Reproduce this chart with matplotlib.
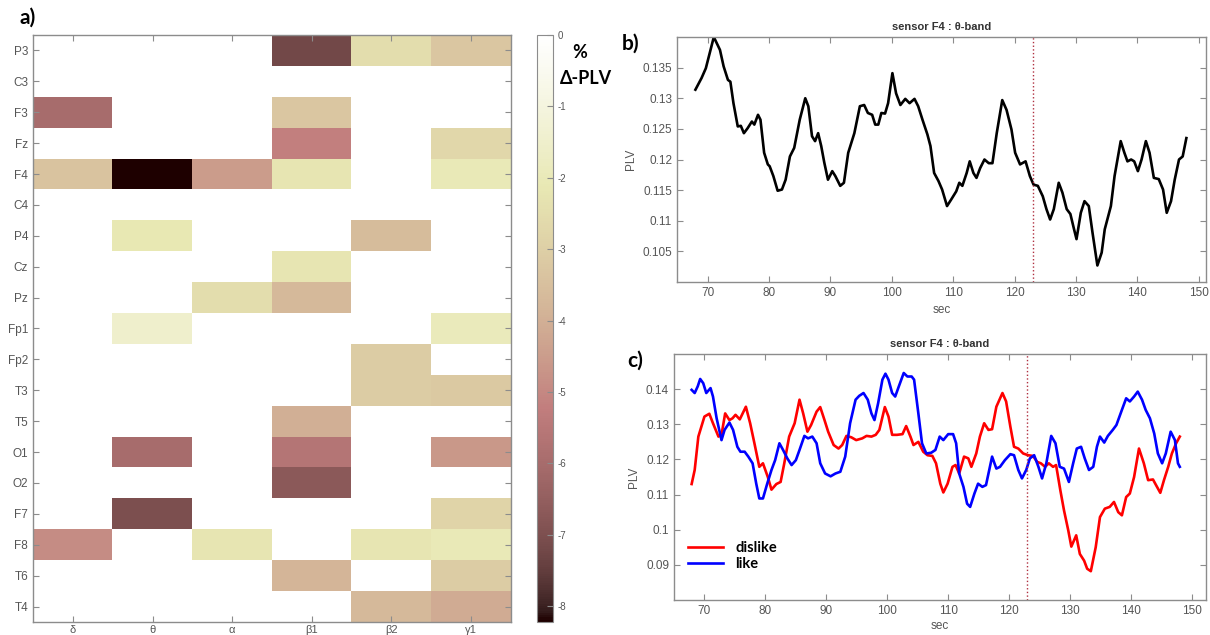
import numpy as np
import matplotlib
matplotlib.use("Agg")
import matplotlib.pyplot as plt
from matplotlib.ticker import FormatStrFormatter

plt.rcParams["font.family"] = ["Liberation Sans", "DejaVu Sans"]
plt.rcParams["axes.unicode_minus"] = False

# ---- panel a: % change of PLV per sensor and band ----
sensors = ["P3", "C3", "F3", "Fz", "F4", "C4", "P4", "Cz", "Pz", "Fp1",
           "Fp2", "T3", "T5", "O1", "O2", "F7", "F8", "T6", "T4"]
bands = ["δ", "θ", "α", "β1", "β2", "γ1"]
delta_plv = [
    [0, 0, 0, -7.2, -2.5, -3.3],     # P3
    [0, 0, 0, 0, 0, 0],              # C3
    [-6.0, 0, 0, -3.3, 0, 0],        # F3
    [0, 0, 0, -5.2, 0, -2.7],        # Fz
    [-3.4, -8.2, -4.5, -2.2, 0, -2.0],  # F4
    [0, 0, 0, 0, 0, 0],              # C4
    [0, -2.1, 0, 0, -3.6, 0],        # P4
    [0, 0, 0, -2.2, 0, 0],           # Cz
    [0, 0, -2.5, -3.7, 0, 0],        # Pz
    [0, -1.5, 0, 0, 0, -1.9],        # Fp1
    [0, 0, 0, 0, -3.1, 0],           # Fp2
    [0, 0, 0, 0, -3.1, -3.2],        # T3
    [0, 0, 0, -4.0, 0, 0],           # T5
    [0, -6.0, 0, -5.6, 0, -4.6],     # O1
    [0, 0, 0, -6.7, 0, 0],           # O2
    [0, -7.0, 0, 0, 0, -2.8],        # F7
    [-4.9, 0, -2.2, 0, -2.2, -2.0],  # F8
    [0, 0, 0, -3.8, 0, -3.1],        # T6
    [0, 0, 0, 0, -3.7, -4.1],        # T4
]
cbar_ticks = [0, -1, -2, -3, -4, -5, -6, -7, -8]

# ---- panel b: PLV time course, sensor F4, theta band ----
t_all = [68.0, 69.0, 69.7, 71.0, 72.0, 72.6, 73.3, 73.7, 74.2, 74.9, 75.4, 75.9,
         76.5, 77.2, 77.6, 78.2, 78.6, 79.2, 79.8, 80.1, 80.7, 81.4, 82.1, 82.7,
         83.4, 84.1, 85.0, 85.9, 86.4, 87.0, 87.5, 88.0, 88.5, 89.0, 89.6, 90.3,
         90.8, 91.6, 92.2, 92.9, 93.9, 94.8, 95.5, 96.1, 96.8, 97.3, 97.8, 98.3,
         98.9, 99.4, 100.1, 100.7, 101.4, 102.2, 102.9, 103.7, 104.3, 105.0, 105.8,
         106.3, 106.9, 107.6, 108.2, 109.0, 109.7, 110.5, 111.0, 111.5, 112.2,
         112.7, 113.3, 113.8, 114.4, 115.1, 115.8, 116.4, 117.1, 118.0, 118.7,
         119.5, 120.1, 120.9, 121.8, 122.5, 123.1, 123.8, 124.6, 125.2, 125.8,
         126.4, 127.2, 127.8, 128.5, 129.1, 129.7, 130.1, 130.8, 131.4, 132.1,
         132.7, 133.5, 134.2, 134.7, 135.7, 136.3, 137.3, 137.9, 138.4, 139.0,
         139.5, 140.1, 140.7, 141.4, 142.0, 142.7, 143.5, 144.2, 144.8, 145.5,
         146.1, 146.8, 147.4, 148.0]
plv_all = [0.1314, 0.1333, 0.1349, 0.1400, 0.1379, 0.1352, 0.1330, 0.1327, 0.1292,
           0.1254, 0.1255, 0.1243, 0.1251, 0.1262, 0.1257, 0.1273, 0.1265, 0.1211,
           0.1192, 0.1189, 0.1173, 0.1149, 0.1151, 0.1167, 0.1205, 0.1219, 0.1265,
           0.1300, 0.1287, 0.1238, 0.1230, 0.1243, 0.1222, 0.1195, 0.1167, 0.1181,
           0.1173, 0.1157, 0.1162, 0.1211, 0.1243, 0.1287, 0.1289, 0.1276, 0.1273,
           0.1257, 0.1257, 0.1276, 0.1275, 0.1292, 0.1341, 0.1308, 0.1289, 0.1299,
           0.1292, 0.1299, 0.1287, 0.1265, 0.1241, 0.1222, 0.1178, 0.1165, 0.1151,
           0.1124, 0.1135, 0.1148, 0.1162, 0.1157, 0.1178, 0.1197, 0.1178, 0.1170,
           0.1186, 0.1200, 0.1194, 0.1194, 0.1243, 0.1297, 0.1281, 0.1249, 0.1211,
           0.1192, 0.1197, 0.1173, 0.1159, 0.1157, 0.1140, 0.1119, 0.1102, 0.1119,
           0.1162, 0.1146, 0.1119, 0.1111, 0.1086, 0.1070, 0.1113, 0.1132, 0.1124,
           0.1081, 0.1027, 0.1048, 0.1086, 0.1124, 0.1173, 0.1230, 0.1211, 0.1197,
           0.1200, 0.1197, 0.1181, 0.1200, 0.1230, 0.1211, 0.1170, 0.1168, 0.1151,
           0.1113, 0.1132, 0.1167, 0.1200, 0.1205, 0.1235]

# ---- panel c: dislike vs like ----
t_dislike = [67.9, 68.4, 69.0, 70.0, 70.8, 71.4, 72.3, 72.8, 73.4, 74.1, 74.6, 75.1,
             75.8, 76.8, 77.5, 78.2, 79.0, 79.6, 80.4, 81.0, 81.8, 82.5, 83.1, 83.9,
             84.8, 85.6, 86.2, 86.9, 87.5, 88.4, 89.0, 89.7, 90.3, 91.2, 92.0, 92.6,
             93.3, 94.1, 94.9, 95.9, 96.6, 97.4, 98.1, 98.7, 99.6, 100.2, 100.8, 101.6,
             102.5, 103.1, 103.8, 104.3, 105.1, 105.9, 106.6, 107.4, 108.0, 108.7,
             109.2, 109.9, 110.7, 111.2, 111.8, 112.6, 113.3, 113.8, 114.6, 115.2,
             115.9, 116.6, 117.2, 117.9, 118.9, 119.5, 120.2, 120.8, 121.5, 122.3,
             123.1, 123.9, 124.6, 125.2, 125.9, 126.5, 127.2, 127.7, 128.4, 129.0,
             129.7, 130.2, 131.0, 131.6, 132.3, 132.8, 133.4, 134.2, 134.9, 135.7,
             136.5, 137.2, 137.9, 138.5, 139.2, 139.8, 140.5, 141.3, 142.1, 142.8,
             143.6, 144.1, 144.8, 145.4, 146.1, 146.7, 147.4, 148.0]
plv_dislike = [0.1130, 0.1170, 0.1265, 0.1322, 0.1330, 0.1303, 0.1265, 0.1270, 0.1331,
               0.1312, 0.1317, 0.1327, 0.1314, 0.1350, 0.1303, 0.1246, 0.1179, 0.1189,
               0.1150, 0.1114, 0.1130, 0.1136, 0.1189, 0.1265, 0.1303, 0.1370, 0.1331,
               0.1279, 0.1298, 0.1336, 0.1349, 0.1312, 0.1279, 0.1241, 0.1231, 0.1241,
               0.1267, 0.1263, 0.1255, 0.1260, 0.1267, 0.1265, 0.1270, 0.1284, 0.1349,
               0.1322, 0.1270, 0.1270, 0.1272, 0.1295, 0.1265, 0.1241, 0.1250, 0.1222,
               0.1212, 0.1210, 0.1189, 0.1131, 0.1106, 0.1131, 0.1179, 0.1184, 0.1160,
               0.1208, 0.1203, 0.1179, 0.1217, 0.1265, 0.1303, 0.1284, 0.1286, 0.1350,
               0.1389, 0.1365, 0.1293, 0.1236, 0.1231, 0.1217, 0.1212, 0.1210, 0.1193,
               0.1189, 0.1179, 0.1189, 0.1179, 0.1184, 0.1112, 0.1055, 0.0998, 0.0952,
               0.0984, 0.0931, 0.0912, 0.0889, 0.0882, 0.0950, 0.1036, 0.1060, 0.1065,
               0.1079, 0.1050, 0.1041, 0.1093, 0.1103, 0.1150, 0.1231, 0.1189, 0.1141,
               0.1143, 0.1127, 0.1105, 0.1141, 0.1179, 0.1217, 0.1246, 0.1265]
t_like = [67.9, 68.4, 68.9, 69.3, 69.8, 70.3, 71.0, 71.4, 72.0, 72.8, 73.3, 74.1,
          74.7, 75.4, 75.9, 76.6, 77.2, 77.9, 78.5, 79.0, 79.6, 80.3, 81.0, 81.6,
          82.3, 82.9, 83.6, 84.3, 85.0, 85.6, 86.4, 87.0, 87.7, 88.4, 89.0, 89.8,
          90.7, 91.5, 92.3, 93.1, 93.9, 94.8, 95.4, 96.1, 96.8, 97.4, 97.9, 98.5,
          99.2, 99.7, 100.2, 100.8, 101.3, 101.9, 102.7, 103.3, 104.0, 104.4, 105.1,
          105.7, 106.4, 107.2, 107.9, 108.6, 109.2, 110.0, 110.8, 111.3, 111.8,
          112.5, 113.1, 113.6, 114.3, 114.9, 115.6, 116.2, 117.2, 117.9, 118.5,
          119.3, 120.2, 120.8, 121.5, 122.1, 122.8, 123.4, 124.1, 124.8, 125.4,
          126.1, 126.9, 127.6, 128.3, 129.0, 129.8, 130.5, 131.1, 131.8, 132.4,
          133.1, 133.8, 134.4, 134.9, 135.6, 136.2, 137.0, 137.6, 138.5, 139.2,
          139.8, 140.5, 141.1, 141.8, 142.4, 143.1, 143.8, 144.4, 145.1, 145.7,
          146.5, 147.2, 147.7, 148.0]
plv_like = [0.1398, 0.1389, 0.1408, 0.1429, 0.1417, 0.1389, 0.1403, 0.1379, 0.1317,
            0.1255, 0.1284, 0.1305, 0.1284, 0.1236, 0.1222, 0.1222, 0.1208, 0.1189,
            0.1131, 0.1089, 0.1089, 0.1131, 0.1170, 0.1198, 0.1246, 0.1227, 0.1203,
            0.1184, 0.1198, 0.1227, 0.1267, 0.1260, 0.1265, 0.1246, 0.1189, 0.1160,
            0.1152, 0.1160, 0.1165, 0.1208, 0.1303, 0.1370, 0.1381, 0.1389, 0.1370,
            0.1331, 0.1312, 0.1360, 0.1427, 0.1444, 0.1427, 0.1389, 0.1379, 0.1408,
            0.1446, 0.1436, 0.1436, 0.1427, 0.1331, 0.1246, 0.1217, 0.1219, 0.1227,
            0.1265, 0.1255, 0.1272, 0.1272, 0.1246, 0.1160, 0.1122, 0.1074, 0.1065,
            0.1103, 0.1131, 0.1122, 0.1127, 0.1208, 0.1174, 0.1179, 0.1198, 0.1215,
            0.1212, 0.1170, 0.1146, 0.1170, 0.1203, 0.1212, 0.1179, 0.1146, 0.1189,
            0.1267, 0.1246, 0.1179, 0.1174, 0.1136, 0.1189, 0.1231, 0.1236, 0.1203,
            0.1170, 0.1179, 0.1236, 0.1265, 0.1248, 0.1267, 0.1284, 0.1298, 0.1341,
            0.1374, 0.1365, 0.1379, 0.1393, 0.1370, 0.1341, 0.1317, 0.1274, 0.1217,
            0.1189, 0.1217, 0.1279, 0.1255, 0.1189, 0.1179]

onset = 123.0
title_txt = "sensor F4 : θ-band"

GRAY = "#8c8c8c"
TXT = "#555555"
BOLD_FONT = ["Lato", "DejaVu Sans"]


def style_axes(ax):
    for s in ax.spines.values():
        s.set_color(GRAY)
        s.set_linewidth(1.0)
    ax.tick_params(direction="in", length=4, width=0.8, color=GRAY,
                   labelcolor=TXT, labelsize=8.5, top=True, right=True)


fig = plt.figure(figsize=(12.1, 6.35), dpi=100)

# heatmap
ax_a = fig.add_axes([0.0273, 0.0205, 0.395, 0.9244])
im = ax_a.imshow(np.array(delta_plv), cmap="pink", vmin=-8.22, vmax=0,
                 aspect="auto", interpolation="nearest")
ax_a.set_yticks(range(len(sensors)))
ax_a.set_yticklabels(sensors)
ax_a.set_xticks(range(len(bands)))
ax_a.set_xticklabels(bands)
style_axes(ax_a)
ax_a.tick_params(axis="x", pad=2, labelsize=8)

cax = fig.add_axes([0.4438, 0.0205, 0.0132, 0.9244])
cb = fig.colorbar(im, cax=cax, ticks=cbar_ticks)
cb.ax.set_yticklabels([str(v) for v in cbar_ticks])
cb.outline.set_edgecolor(GRAY)
cb.ax.tick_params(direction="in", length=4, color=GRAY, labelcolor=TXT, labelsize=7)
fig.text(0.479, 0.918, "%", fontsize=13, fontweight="bold", family=BOLD_FONT,
         ha="center", va="center")
fig.text(0.484, 0.877, "Δ-PLV", fontsize=13, fontweight="bold", family=BOLD_FONT,
         ha="center", va="center")

# panel b
ax_b = fig.add_axes([0.5595, 0.5559, 0.4372, 0.3858])
ax_b.plot(t_all, plv_all, color="black", lw=1.9, solid_joinstyle="round")
ax_b.axvline(onset, color="#b03040", lw=1.0, ls=":")
ax_b.set_xlim(65, 151.2)
ax_b.set_ylim(0.100, 0.140)
ax_b.set_yticks([0.105, 0.11, 0.115, 0.12, 0.125, 0.13, 0.135])
ax_b.yaxis.set_major_formatter(FormatStrFormatter("%g"))
ax_b.set_xticks(range(70, 151, 10))
style_axes(ax_b)
ax_b.set_xlabel("sec", fontsize=8.5, color=TXT, labelpad=4)
ax_b.set_ylabel("PLV", fontsize=8.5, color=TXT)
ax_b.set_title(title_txt, fontsize=8, fontweight="bold", color="#333333", pad=5)

# panel c
ax_c = fig.add_axes([0.557, 0.0551, 0.4397, 0.3874])
ax_c.plot(t_dislike, plv_dislike, color="#ff0000", lw=1.9, label="dislike",
          solid_joinstyle="round")
ax_c.plot(t_like, plv_like, color="#0000ff", lw=1.9, label="like",
          solid_joinstyle="round")
ax_c.axvline(onset, color="#b03040", lw=1.0, ls=":")
ax_c.set_xlim(65, 152.3)
ax_c.set_ylim(0.08, 0.15)
ax_c.set_yticks([0.09, 0.10, 0.11, 0.12, 0.13, 0.14])
ax_c.yaxis.set_major_formatter(FormatStrFormatter("%g"))
ax_c.set_xticks(range(70, 151, 10))
style_axes(ax_c)
ax_c.set_xlabel("sec", fontsize=8.5, color=TXT, labelpad=2)
ax_c.set_ylabel("PLV", fontsize=8.5, color=TXT)
ax_c.set_title(title_txt, fontsize=8, fontweight="bold", color="#333333", pad=5)
ax_c.legend(loc="upper left", bbox_to_anchor=(0.569, 0.148),
            bbox_transform=fig.transFigure, frameon=False, borderpad=0,
            borderaxespad=0, handlelength=2.4, handletextpad=0.8, labelspacing=0.15,
            prop={"family": BOLD_FONT, "weight": "bold", "size": 10.5})

# panel letters
fig.text(0.016, 0.972, "a)", fontsize=15, fontweight="bold", family=BOLD_FONT,
         va="center", ha="left")
fig.text(0.514, 0.932, "b)", fontsize=15, fontweight="bold", family=BOLD_FONT,
         va="center", ha="left")
fig.text(0.518, 0.432, "c)", fontsize=15, fontweight="bold", family=BOLD_FONT,
         va="center", ha="left")

fig.savefig("out.png", dpi=100)
